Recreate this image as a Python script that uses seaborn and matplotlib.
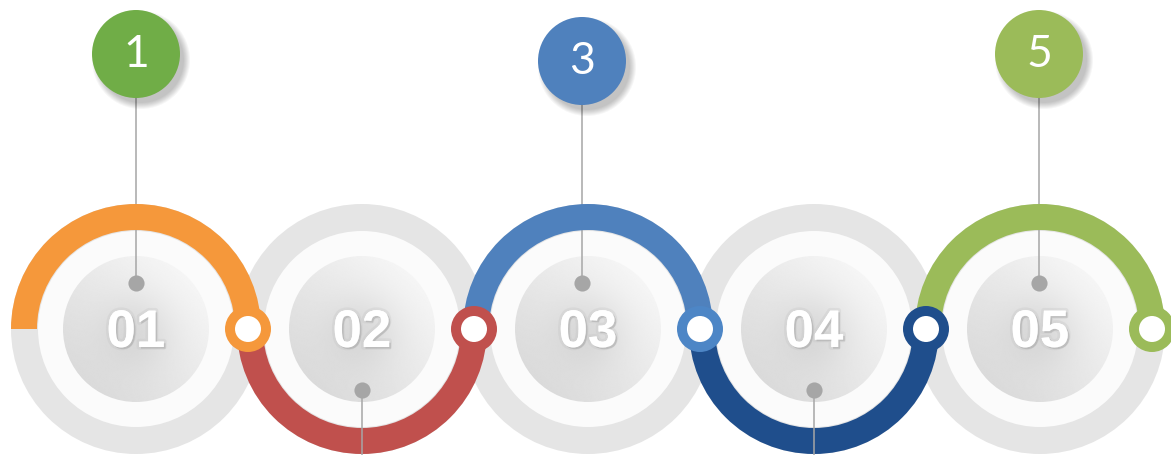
import numpy as np
import matplotlib
matplotlib.use("Agg")
import matplotlib.pyplot as plt
import matplotlib.patheffects as pe
from matplotlib.patches import Circle, Wedge
import seaborn as sns
import pandas as pd

# chart content
step_labels = ["01", "02", "03", "04", "05"]
arc_colors = ["#f5983b", "#c0504d", "#4f81bd", "#1f4e8c", "#9bbb59"]
ring_colors = ["#f5983b", "#c0504d", "#4d86c6", "#1f4e8c", "#9bbb59"]
arc_sides = ["top", "bottom", "top", "bottom", "top"]
badge_labels = ["1", "3", "5"]
badge_steps = [0, 2, 4]
badge_colors = ["#70ad47", "#4f81bd", "#9bbb59"]

# layout (pixels, y measured up from the bottom)
W, H = 1171, 456
X0, STEP = 136, 226
CY = H - 330
R_ARC, ARC_W = 112, 26
R_GRAY, R_WHITE, R_INNER = 125, 98, 73
BADGE_R = 44
badge_dx = [0, -6, -1]
badge_y = [H - 55, H - 62, H - 55]

sns.set_theme(style="white")

fig = plt.figure(figsize=(W / 100, H / 100), dpi=100)
ax = fig.add_axes([0, 0, 1, 1])
ax.set_xlim(0, W)
ax.set_ylim(0, H)
ax.set_aspect("equal")
ax.axis("off")

centers = [X0 + i * STEP for i in range(len(step_labels))]


def inner_disk(ax, cx, cy, r):
    n = 240
    u = np.linspace(-1, 1, n)
    xx, yy = np.meshgrid(u, u)
    t = (xx + yy) / 2
    val = 0.91 + 0.075 * t - 0.06 * np.exp(-(xx ** 2 + (yy + 0.05) ** 2) / 0.25)
    val = np.clip(val, 0, 1)
    im = ax.imshow(val, cmap="gray", vmin=0, vmax=1, origin="lower",
                   extent=(cx - r, cx + r, cy - r, cy + r), zorder=2,
                   interpolation="bilinear")
    clip = Circle((cx, cy), r, transform=ax.transData)
    im.set_clip_path(clip)


# grey discs behind each step
for cx in centers:
    ax.add_patch(Circle((cx, CY), R_GRAY, color="#e5e5e5", lw=0, zorder=1))
    ax.add_patch(Circle((cx, CY), R_WHITE, color="#fbfbfb", lw=0, zorder=1.2))
for cx in centers:
    inner_disk(ax, cx, CY, R_INNER)

# step numbers
for cx, lab in zip(centers, step_labels):
    ax.text(cx, CY - 4, lab, ha="center", va="center", color="white",
            fontsize=38, fontweight="bold", family="Liberation Sans", zorder=3,
            path_effects=[pe.withStroke(linewidth=4, foreground="#c4c4c4", alpha=0.3),
                          pe.withSimplePatchShadow(offset=(1.2, -1.2), shadow_rgbFace="#a0a0a0", alpha=0.45)])

# coloured half rings
for cx, col, side in zip(centers, arc_colors, arc_sides):
    t1, t2 = (0, 180) if side == "top" else (180, 360)
    ax.add_patch(Wedge((cx, CY), R_ARC + ARC_W / 2, t1, t2, width=ARC_W,
                       color=col, lw=0, zorder=5))

# connector rings at the end of each arc
for cx, col in zip(centers, ring_colors):
    ax.add_patch(Circle((cx + R_ARC, CY), 23, color=col, lw=0, zorder=6))
    ax.add_patch(Circle((cx + R_ARC, CY), 13, color="white", lw=0, zorder=6.1))

# leader lines and dots
dots = []
for i, (cx, side) in enumerate(zip(centers, arc_sides)):
    if side == "top":
        b = badge_steps.index(i)
        lx = cx + badge_dx[b]
        dy = CY + 46
        ax.plot([lx, lx], [badge_y[b] - BADGE_R, dy], color="#a6a6a6", lw=1.1, zorder=2.5)
    else:
        lx = cx
        dy = CY - 61
        ax.plot([lx, lx], [dy, 0], color="#a6a6a6", lw=1.1, zorder=6.5)
    dots.append({"x": lx, "y": dy})
dots = pd.DataFrame(dots)
sns.scatterplot(data=dots, x="x", y="y", s=135, color="#a6a6a6", linewidth=0,
                ax=ax, legend=False, zorder=4)
ax.set_xlim(0, W)
ax.set_ylim(0, H)
ax.axis("off")

# numbered badges on top
for lab, step, col, dx, by in zip(badge_labels, badge_steps, badge_colors, badge_dx, badge_y):
    bx = centers[step] + dx
    for k in range(7):
        ax.add_patch(Circle((bx + 5, by - 6), BADGE_R + 5 - k, color="black",
                            alpha=0.035, lw=0, zorder=7))
    ax.add_patch(Circle((bx, by), BADGE_R, color=col, lw=0, zorder=8))
    ax.text(bx, by + 1, lab, ha="center", va="center", color="white",
            fontsize=32, family="Lato", zorder=9)

fig.savefig("out.png", dpi=100)
